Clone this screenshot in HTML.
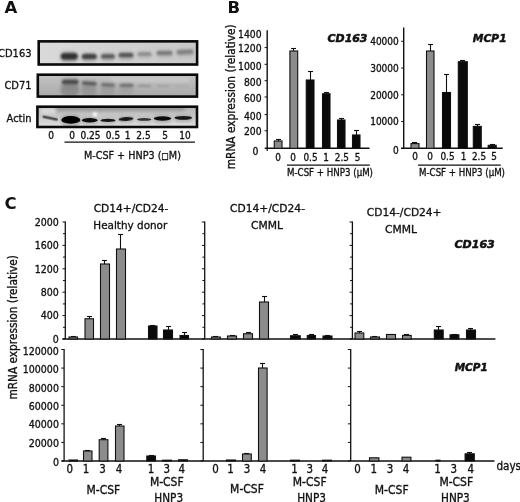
<!DOCTYPE html>
<html><head><meta charset="utf-8"><title>Figure</title>
<style>
html,body{margin:0;padding:0;background:#fff;}
body{width:520px;height:502px;overflow:hidden;}
svg{display:block;}
text{font-family:"DejaVu Sans Condensed","Liberation Sans",sans-serif;fill:#111;stroke:#111;stroke-width:0.3px;}
.bd{font-family:"DejaVu Sans","Liberation Sans",sans-serif;stroke-width:0.5px;}
.lb{font-family:"Liberation Sans",sans-serif;}
</style></head><body>
<svg width="520" height="502" viewBox="0 0 520 502">
<defs>
<filter id="b0" x="-20%" y="-100%" width="140%" height="300%"><feGaussianBlur stdDeviation="0.7"/></filter>
<filter id="b1" x="-20%" y="-100%" width="140%" height="300%"><feGaussianBlur stdDeviation="1.1"/></filter>
<filter id="b2" x="-20%" y="-100%" width="140%" height="300%"><feGaussianBlur stdDeviation="1.8"/></filter>
<linearGradient id="g1" x1="0" y1="0" x2="1" y2="0"><stop offset="0" stop-color="#dadada"/><stop offset="1" stop-color="#c8c8c8"/></linearGradient>
<linearGradient id="g2" x1="0" y1="0" x2="0" y2="1"><stop offset="0" stop-color="#c4c4c4"/><stop offset="1" stop-color="#a8a8a8"/></linearGradient>
<linearGradient id="g3" x1="0" y1="0" x2="0" y2="1"><stop offset="0" stop-color="#b2b2b2"/><stop offset="0.5" stop-color="#cacaca"/><stop offset="1" stop-color="#e2e2e2"/></linearGradient>
<clipPath id="c1"><rect x="38" y="41" width="160" height="24.3"/></clipPath>
<clipPath id="c2"><rect x="37.5" y="74.5" width="160.5" height="22.8"/></clipPath>
<clipPath id="c3"><rect x="37" y="106.5" width="160.5" height="21"/></clipPath>
</defs>
<rect width="520" height="502" fill="#fff"/>

<text x="4.6" y="12.6" font-size="16.5" text-anchor="start" font-weight="bold" class="bd" style="stroke-width:0">A</text>
<text x="227.4" y="12.6" font-size="16.5" text-anchor="start" font-weight="bold" class="bd" style="stroke-width:0">B</text>
<text x="4.6" y="208.8" font-size="16.5" text-anchor="start" font-weight="bold" class="bd" style="stroke-width:0">C</text>
<rect x="38" y="41" width="160" height="24.3" fill="url(#g1)"/>
<g clip-path="url(#c1)">
<rect x="60.0" y="51.5" width="18.5" height="10.7" rx="5.3" fill="#808080" opacity="0.6" filter="url(#b2)"/>
<rect x="61.0" y="53.2" width="16.5" height="6.2" rx="3.1" fill="#303030" opacity="1" filter="url(#b1)"/>
<rect x="81.0" y="52.5" width="16.5" height="9.5" rx="4.8" fill="#888" opacity="0.55" filter="url(#b2)"/>
<rect x="82.0" y="54.1" width="14.5" height="5.0" rx="2.5" fill="#424242" opacity="1" filter="url(#b1)"/>
<rect x="100.2" y="52.5" width="15.5" height="8.9" rx="4.5" fill="#909090" opacity="0.5" filter="url(#b2)"/>
<rect x="101.2" y="54.2" width="13.5" height="4.4" rx="2.2" fill="#5c5c5c" opacity="1" filter="url(#b1)"/>
<rect x="117.8" y="51.5" width="16.5" height="8.7" rx="4.3" fill="#909090" opacity="0.5" filter="url(#b2)"/>
<rect x="118.8" y="53.1" width="14.5" height="4.2" rx="2.1" fill="#565656" opacity="1" filter="url(#b1)"/>
<rect x="136.8" y="51.0" width="15.5" height="7.7" rx="3.9" fill="#a0a0a0" opacity="0.45" filter="url(#b2)"/>
<rect x="137.8" y="52.6" width="13.5" height="3.2" rx="1.6" fill="#8a8a8a" opacity="1" filter="url(#b1)"/>
<rect x="155.8" y="49.5" width="17.5" height="8.3" rx="4.2" fill="#9a9a9a" opacity="0.5" filter="url(#b2)"/>
<rect x="156.8" y="51.1" width="15.5" height="3.8" rx="1.9" fill="#7a7a7a" opacity="1" filter="url(#b1)"/>
<rect x="175.8" y="48.5" width="18.5" height="8.3" rx="4.2" fill="#9a9a9a" opacity="0.5" filter="url(#b2)"/>
<rect x="176.8" y="50.1" width="16.5" height="3.8" rx="1.9" fill="#808080" opacity="1" filter="url(#b1)" transform="rotate(-3 185 52)"/>
</g>
<rect x="38.7" y="41.35" width="158.4" height="23.15" fill="none" stroke="#0a0a0a" stroke-width="2.6"/>
<rect x="37.5" y="74.5" width="160.5" height="22.8" fill="url(#g2)"/>
<g clip-path="url(#c2)">
<rect x="60.5" y="83.5" width="19.0" height="13.0" rx="6.5" fill="#868686" opacity="0.85" filter="url(#b2)"/>
<rect x="81.0" y="85.5" width="16.0" height="11.0" rx="5.5" fill="#909090" opacity="0.75" filter="url(#b2)"/>
<rect x="100.5" y="87.5" width="15.0" height="9.0" rx="4.5" fill="#969696" opacity="0.65" filter="url(#b2)"/>
<rect x="118.5" y="88.0" width="15.0" height="8.0" rx="4.0" fill="#9a9a9a" opacity="0.5" filter="url(#b2)"/>
<rect x="110.0" y="77.5" width="80.0" height="5.0" rx="2.5" fill="#cfcfcf" opacity="0.6" filter="url(#b2)"/>
<rect x="61.0" y="78.1" width="18.5" height="8.9" rx="4.5" fill="#808080" opacity="0.5" filter="url(#b2)"/>
<rect x="62.0" y="79.8" width="16.5" height="4.4" rx="2.2" fill="#4c4c4c" opacity="1" filter="url(#b1)"/>
<rect x="81.0" y="80.1" width="16.5" height="7.9" rx="4.0" fill="#888" opacity="0.45" filter="url(#b2)"/>
<rect x="82.0" y="81.8" width="14.5" height="3.4" rx="1.7" fill="#5a5a5a" opacity="1" filter="url(#b1)" transform="rotate(4 89.3 83.5)"/>
<rect x="100.2" y="81.8" width="15.5" height="7.5" rx="3.8" fill="#8c8c8c" opacity="0.4" filter="url(#b2)"/>
<rect x="101.2" y="83.5" width="13.5" height="3.0" rx="1.5" fill="#6a6a6a" opacity="1" filter="url(#b1)" transform="rotate(3 108 85.0)"/>
<rect x="118.8" y="82.3" width="15.5" height="7.5" rx="3.8" fill="#909090" opacity="0.4" filter="url(#b2)"/>
<rect x="119.8" y="84.0" width="13.5" height="3.0" rx="1.5" fill="#707070" opacity="1" filter="url(#b1)"/>
<rect x="138.0" y="84.7" width="13.0" height="2.6" rx="1.3" fill="#949494" opacity="1" filter="url(#b1)"/>
<rect x="156.5" y="85.1" width="13.0" height="2.2" rx="1.1" fill="#a2a2a2" opacity="1" filter="url(#b1)"/>
<rect x="175.5" y="85.2" width="13.0" height="2.0" rx="1.0" fill="#a8a8a8" opacity="0.7" filter="url(#b1)"/>
</g>
<rect x="37.8" y="74.7" width="159.2" height="21.9" fill="none" stroke="#0a0a0a" stroke-width="2.6"/>
<rect x="37" y="106.5" width="160.5" height="21" fill="url(#g3)"/>
<g clip-path="url(#c3)">
<rect x="55.0" y="105.0" width="130.0" height="6.0" rx="3.0" fill="#8c8c8c" opacity="0.7" filter="url(#b2)"/>
<rect x="40.0" y="108.0" width="16.0" height="6.0" rx="3.0" fill="#e0e0e0" opacity="0.8" filter="url(#b2)"/>
<rect x="42.5" y="116.8" width="15.5" height="2.8" rx="1.4" fill="#505050" opacity="1" filter="url(#b0)" transform="rotate(12 50.2 118.2)"/>
<rect x="61.0" y="115.2" width="19.5" height="10.4" rx="5.2" fill="#707070" opacity="0.5" filter="url(#b2)"/>
<ellipse cx="70.8" cy="119.9" rx="9.5" ry="3.8" fill="#060606" opacity="1" filter="url(#b0)"/>
<rect x="81.5" y="116.8" width="16.5" height="7.8" rx="3.9" fill="#808080" opacity="0.4" filter="url(#b2)"/>
<ellipse cx="89.7" cy="120.2" rx="8.0" ry="2.2" fill="#0e0e0e" opacity="1" filter="url(#b0)"/>
<rect x="100.2" y="117.5" width="15.5" height="6.9" rx="3.5" fill="#888" opacity="0.35" filter="url(#b2)"/>
<ellipse cx="108.0" cy="120.4" rx="7.5" ry="1.7" fill="#161616" opacity="1" filter="url(#b0)"/>
<rect x="118.2" y="115.9" width="15.5" height="7.2" rx="3.6" fill="#888" opacity="0.35" filter="url(#b2)"/>
<ellipse cx="126.0" cy="119.0" rx="7.5" ry="1.9" fill="#161616" opacity="1" filter="url(#b0)" transform="rotate(-4 126 119)"/>
<rect x="136.7" y="116.8" width="15.0" height="6.3" rx="3.1" fill="#909090" opacity="0.3" filter="url(#b2)"/>
<ellipse cx="144.2" cy="119.4" rx="7.2" ry="1.4" fill="#303030" opacity="1" filter="url(#b0)"/>
<rect x="153.5" y="115.1" width="18.0" height="7.8" rx="3.9" fill="#808080" opacity="0.4" filter="url(#b2)"/>
<ellipse cx="162.5" cy="118.5" rx="8.8" ry="2.2" fill="#0e0e0e" opacity="1" filter="url(#b0)"/>
<rect x="174.3" y="114.7" width="18.0" height="7.2" rx="3.6" fill="#808080" opacity="0.4" filter="url(#b2)"/>
<ellipse cx="183.3" cy="117.8" rx="8.8" ry="1.9" fill="#161616" opacity="1" filter="url(#b0)"/>
<circle cx="95" cy="114.5" r="2.4" fill="#f6f6f6" filter="url(#b1)"/>
</g>
<rect x="37.4" y="106.7" width="159.6" height="20.3" fill="none" stroke="#0a0a0a" stroke-width="2.6"/>
<text x="31.5" y="57.2" font-size="11" text-anchor="end">CD163</text>
<text x="31.5" y="88.8" font-size="11" text-anchor="end">CD71</text>
<text x="31.5" y="121.5" font-size="11" text-anchor="end">Actin</text>
<text x="51" y="139" font-size="10" text-anchor="middle">0</text>
<text x="72" y="139" font-size="10" text-anchor="middle">0</text>
<text x="90.5" y="139" font-size="10" text-anchor="middle">0.25</text>
<text x="113" y="139" font-size="10" text-anchor="middle">0.5</text>
<text x="127.5" y="139" font-size="10" text-anchor="middle">1</text>
<text x="143.5" y="139" font-size="10" text-anchor="middle">2.5</text>
<text x="165" y="139" font-size="10" text-anchor="middle">5</text>
<text x="185" y="139" font-size="10" text-anchor="middle">10</text>
<line x1="64.5" y1="142.2" x2="195" y2="142.2" stroke="#111" stroke-width="1.2"/>
<text x="132.4" y="159" font-size="10.7" text-anchor="middle" textLength="97" lengthAdjust="spacingAndGlyphs">M-CSF + HNP3 (<tspan font-size="8.6" dy="-0.4">&#9633;</tspan><tspan dy="0.4">M</tspan>)</text>
<line x1="267.2" y1="30.3" x2="267.2" y2="148.3" stroke="#111" stroke-width="1.4"/>
<line x1="264.7" y1="148.3" x2="369.5" y2="148.3" stroke="#111" stroke-width="1.4"/>
<text x="261.6" y="37.7" font-size="10.3" text-anchor="end">1400</text>
<text x="261.6" y="52.0" font-size="10.3" text-anchor="end">1200</text>
<line x1="264.59999999999997" y1="47.6" x2="267.2" y2="47.6" stroke="#111" stroke-width="1"/>
<text x="261.6" y="69.9" font-size="10.3" text-anchor="end">1000</text>
<line x1="264.59999999999997" y1="64.3" x2="267.2" y2="64.3" stroke="#111" stroke-width="1"/>
<text x="261.6" y="85.7" font-size="10.3" text-anchor="end">800</text>
<line x1="264.59999999999997" y1="80.7" x2="267.2" y2="80.7" stroke="#111" stroke-width="1"/>
<text x="261.6" y="102.3" font-size="10.3" text-anchor="end">600</text>
<line x1="264.59999999999997" y1="97" x2="267.2" y2="97" stroke="#111" stroke-width="1"/>
<text x="261.6" y="119.7" font-size="10.3" text-anchor="end">400</text>
<line x1="264.59999999999997" y1="114.6" x2="267.2" y2="114.6" stroke="#111" stroke-width="1"/>
<text x="261.6" y="135.29999999999998" font-size="10.3" text-anchor="end">200</text>
<line x1="264.59999999999997" y1="130.8" x2="267.2" y2="130.8" stroke="#111" stroke-width="1"/>
<text x="258.4" y="154.7" font-size="10.3" text-anchor="end">0</text>
<line x1="267.2" y1="148.3" x2="267.2" y2="151" stroke="#111" stroke-width="1.2"/>
<line x1="278.5" y1="139.0" x2="278.5" y2="141" stroke="#111" stroke-width="1.1"/>
<line x1="276.0" y1="139.5" x2="281.0" y2="139.5" stroke="#111" stroke-width="1.1"/>
<rect x="274.25" y="141.00" width="7.75" height="7.30" fill="#8c8c8c" stroke="#111" stroke-width="1.1"/>
<line x1="293.5" y1="48.0" x2="293.5" y2="51" stroke="#111" stroke-width="1.1"/>
<line x1="291.0" y1="48.5" x2="296.0" y2="48.5" stroke="#111" stroke-width="1.1"/>
<rect x="289.90" y="51.00" width="7.80" height="97.30" fill="#8c8c8c" stroke="#111" stroke-width="1.1"/>
<line x1="310.5" y1="71.0" x2="310.5" y2="80" stroke="#111" stroke-width="1.1"/>
<line x1="308.0" y1="71.5" x2="313.0" y2="71.5" stroke="#111" stroke-width="1.1"/>
<rect x="306.25" y="80.00" width="7.75" height="68.30" fill="#0a0a0a" stroke="#111" stroke-width="1.1"/>
<line x1="326.5" y1="92.0" x2="326.5" y2="93.75" stroke="#111" stroke-width="1.1"/>
<line x1="324.0" y1="92.5" x2="329.0" y2="92.5" stroke="#111" stroke-width="1.1"/>
<rect x="322.50" y="93.75" width="7.50" height="54.55" fill="#0a0a0a" stroke="#111" stroke-width="1.1"/>
<line x1="341.5" y1="118.0" x2="341.5" y2="120" stroke="#111" stroke-width="1.1"/>
<line x1="339.0" y1="118.5" x2="344.0" y2="118.5" stroke="#111" stroke-width="1.1"/>
<rect x="337.50" y="120.00" width="7.50" height="28.30" fill="#0a0a0a" stroke="#111" stroke-width="1.1"/>
<line x1="356.5" y1="130.0" x2="356.5" y2="135" stroke="#111" stroke-width="1.1"/>
<line x1="354.0" y1="130.5" x2="359.0" y2="130.5" stroke="#111" stroke-width="1.1"/>
<rect x="352.50" y="135.00" width="7.50" height="13.30" fill="#0a0a0a" stroke="#111" stroke-width="1.1"/>
<text x="278" y="161.2" font-size="9.9" text-anchor="middle">0</text>
<text x="293" y="161.2" font-size="9.9" text-anchor="middle">0</text>
<text x="310.5" y="161.2" font-size="9.9" text-anchor="middle">0.5</text>
<text x="326.2" y="161.2" font-size="9.9" text-anchor="middle">1</text>
<text x="341.8" y="161.2" font-size="9.9" text-anchor="middle">2.5</text>
<text x="357.5" y="161.2" font-size="9.9" text-anchor="middle">5</text>
<line x1="287" y1="165.1" x2="369.8" y2="165.1" stroke="#111" stroke-width="1.4"/>
<text x="330" y="176.1" font-size="9.7" text-anchor="middle" textLength="86" lengthAdjust="spacingAndGlyphs">M-CSF + HNP3 (&#956;M)</text>
<text x="367.5" y="41.5" font-size="11" text-anchor="end" font-weight="bold" font-style="italic" textLength="40" lengthAdjust="spacingAndGlyphs" class="bd">CD163</text>
<text transform="translate(235,96.8) rotate(-90)" font-size="12" text-anchor="middle" textLength="145" lengthAdjust="spacingAndGlyphs">mRNA expression (relative)</text>
<line x1="403.7" y1="27.5" x2="403.7" y2="148.3" stroke="#111" stroke-width="1.4"/>
<line x1="401" y1="148.3" x2="502.7" y2="148.3" stroke="#111" stroke-width="1.4"/>
<text x="398.8" y="44.6" font-size="10" text-anchor="end">40000</text>
<text x="398.8" y="71.6" font-size="10" text-anchor="end">30000</text>
<text x="398.8" y="98.6" font-size="10" text-anchor="end">20000</text>
<text x="398.8" y="124.6" font-size="10" text-anchor="end">10000</text>
<text x="398.8" y="154.2" font-size="10" text-anchor="end">0</text>
<line x1="401.2" y1="121.55000000000001" x2="403.7" y2="121.55000000000001" stroke="#111" stroke-width="1"/>
<line x1="401.2" y1="94.80000000000001" x2="403.7" y2="94.80000000000001" stroke="#111" stroke-width="1"/>
<line x1="401.2" y1="68.05000000000001" x2="403.7" y2="68.05000000000001" stroke="#111" stroke-width="1"/>
<line x1="401.2" y1="41.30000000000001" x2="403.7" y2="41.30000000000001" stroke="#111" stroke-width="1"/>
<line x1="414.5" y1="142.0" x2="414.5" y2="143.6" stroke="#111" stroke-width="1.1"/>
<line x1="412.0" y1="142.5" x2="417.0" y2="142.5" stroke="#111" stroke-width="1.1"/>
<rect x="411.00" y="143.60" width="8.00" height="4.70" fill="#8c8c8c" stroke="#111" stroke-width="1.1"/>
<line x1="430.5" y1="44.0" x2="430.5" y2="51" stroke="#111" stroke-width="1.1"/>
<line x1="428.0" y1="44.5" x2="433.0" y2="44.5" stroke="#111" stroke-width="1.1"/>
<rect x="426.50" y="51.00" width="7.50" height="97.30" fill="#8c8c8c" stroke="#111" stroke-width="1.1"/>
<line x1="446.5" y1="74.0" x2="446.5" y2="92.5" stroke="#111" stroke-width="1.1"/>
<line x1="444.0" y1="74.5" x2="449.0" y2="74.5" stroke="#111" stroke-width="1.1"/>
<rect x="442.50" y="92.50" width="8.00" height="55.80" fill="#0a0a0a" stroke="#111" stroke-width="1.1"/>
<line x1="462.5" y1="60.0" x2="462.5" y2="61.7" stroke="#111" stroke-width="1.1"/>
<line x1="460.0" y1="60.5" x2="465.0" y2="60.5" stroke="#111" stroke-width="1.1"/>
<rect x="458.30" y="61.70" width="9.00" height="86.60" fill="#0a0a0a" stroke="#111" stroke-width="1.1"/>
<line x1="477.5" y1="124.0" x2="477.5" y2="126.4" stroke="#111" stroke-width="1.1"/>
<line x1="475.0" y1="124.5" x2="480.0" y2="124.5" stroke="#111" stroke-width="1.1"/>
<rect x="473.30" y="126.40" width="7.95" height="21.90" fill="#0a0a0a" stroke="#111" stroke-width="1.1"/>
<line x1="492.5" y1="144.0" x2="492.5" y2="145.3" stroke="#111" stroke-width="1.1"/>
<line x1="490.0" y1="144.5" x2="495.0" y2="144.5" stroke="#111" stroke-width="1.1"/>
<rect x="488.20" y="145.30" width="8.00" height="3.00" fill="#0a0a0a" stroke="#111" stroke-width="1.1"/>
<text x="415" y="160.4" font-size="9.9" text-anchor="middle">0</text>
<text x="430" y="160.4" font-size="9.9" text-anchor="middle">0</text>
<text x="447.5" y="160.4" font-size="9.9" text-anchor="middle">0.5</text>
<text x="463.5" y="160.4" font-size="9.9" text-anchor="middle">1</text>
<text x="479" y="160.4" font-size="9.9" text-anchor="middle">2.5</text>
<text x="494" y="160.4" font-size="9.9" text-anchor="middle">5</text>
<line x1="418" y1="165.1" x2="500.7" y2="165.1" stroke="#111" stroke-width="1.4"/>
<text x="462" y="176" font-size="9.7" text-anchor="middle" textLength="86" lengthAdjust="spacingAndGlyphs">M-CSF + HNP3 (&#956;M)</text>
<text x="506.6" y="41.8" font-size="11" text-anchor="end" font-weight="bold" font-style="italic" textLength="33.8" lengthAdjust="spacingAndGlyphs" class="bd">MCP1</text>
<line x1="65.3" y1="221.5" x2="65.3" y2="339" stroke="#111" stroke-width="1.3"/>
<line x1="62.5" y1="339.0" x2="65.3" y2="339.0" stroke="#111" stroke-width="1"/>
<line x1="63.0" y1="327.3" x2="65.3" y2="327.3" stroke="#111" stroke-width="1"/>
<line x1="62.5" y1="315.6" x2="65.3" y2="315.6" stroke="#111" stroke-width="1"/>
<line x1="63.0" y1="303.9" x2="65.3" y2="303.9" stroke="#111" stroke-width="1"/>
<line x1="62.5" y1="292.2" x2="65.3" y2="292.2" stroke="#111" stroke-width="1"/>
<line x1="63.0" y1="280.5" x2="65.3" y2="280.5" stroke="#111" stroke-width="1"/>
<line x1="62.5" y1="268.8" x2="65.3" y2="268.8" stroke="#111" stroke-width="1"/>
<line x1="63.0" y1="257.1" x2="65.3" y2="257.1" stroke="#111" stroke-width="1"/>
<line x1="62.5" y1="245.4" x2="65.3" y2="245.4" stroke="#111" stroke-width="1"/>
<line x1="63.0" y1="233.7" x2="65.3" y2="233.7" stroke="#111" stroke-width="1"/>
<line x1="62.5" y1="222.0" x2="65.3" y2="222.0" stroke="#111" stroke-width="1"/>
<line x1="204.7" y1="221.5" x2="204.7" y2="339" stroke="#111" stroke-width="1.3"/>
<line x1="201.89999999999998" y1="339.0" x2="204.7" y2="339.0" stroke="#111" stroke-width="1"/>
<line x1="202.39999999999998" y1="327.3" x2="204.7" y2="327.3" stroke="#111" stroke-width="1"/>
<line x1="201.89999999999998" y1="315.6" x2="204.7" y2="315.6" stroke="#111" stroke-width="1"/>
<line x1="202.39999999999998" y1="303.9" x2="204.7" y2="303.9" stroke="#111" stroke-width="1"/>
<line x1="201.89999999999998" y1="292.2" x2="204.7" y2="292.2" stroke="#111" stroke-width="1"/>
<line x1="202.39999999999998" y1="280.5" x2="204.7" y2="280.5" stroke="#111" stroke-width="1"/>
<line x1="201.89999999999998" y1="268.8" x2="204.7" y2="268.8" stroke="#111" stroke-width="1"/>
<line x1="202.39999999999998" y1="257.1" x2="204.7" y2="257.1" stroke="#111" stroke-width="1"/>
<line x1="201.89999999999998" y1="245.4" x2="204.7" y2="245.4" stroke="#111" stroke-width="1"/>
<line x1="202.39999999999998" y1="233.7" x2="204.7" y2="233.7" stroke="#111" stroke-width="1"/>
<line x1="201.89999999999998" y1="222.0" x2="204.7" y2="222.0" stroke="#111" stroke-width="1"/>
<line x1="352.4" y1="221.5" x2="352.4" y2="339" stroke="#111" stroke-width="1.3"/>
<line x1="349.59999999999997" y1="339.0" x2="352.4" y2="339.0" stroke="#111" stroke-width="1"/>
<line x1="350.09999999999997" y1="327.3" x2="352.4" y2="327.3" stroke="#111" stroke-width="1"/>
<line x1="349.59999999999997" y1="315.6" x2="352.4" y2="315.6" stroke="#111" stroke-width="1"/>
<line x1="350.09999999999997" y1="303.9" x2="352.4" y2="303.9" stroke="#111" stroke-width="1"/>
<line x1="349.59999999999997" y1="292.2" x2="352.4" y2="292.2" stroke="#111" stroke-width="1"/>
<line x1="350.09999999999997" y1="280.5" x2="352.4" y2="280.5" stroke="#111" stroke-width="1"/>
<line x1="349.59999999999997" y1="268.8" x2="352.4" y2="268.8" stroke="#111" stroke-width="1"/>
<line x1="350.09999999999997" y1="257.1" x2="352.4" y2="257.1" stroke="#111" stroke-width="1"/>
<line x1="349.59999999999997" y1="245.4" x2="352.4" y2="245.4" stroke="#111" stroke-width="1"/>
<line x1="350.09999999999997" y1="233.7" x2="352.4" y2="233.7" stroke="#111" stroke-width="1"/>
<line x1="349.59999999999997" y1="222.0" x2="352.4" y2="222.0" stroke="#111" stroke-width="1"/>
<line x1="64.1" y1="349.0" x2="64.1" y2="461" stroke="#111" stroke-width="1.3"/>
<line x1="61.3" y1="461.0" x2="64.1" y2="461.0" stroke="#111" stroke-width="1"/>
<line x1="61.3" y1="442.4166666666667" x2="64.1" y2="442.4166666666667" stroke="#111" stroke-width="1"/>
<line x1="61.3" y1="423.8333333333333" x2="64.1" y2="423.8333333333333" stroke="#111" stroke-width="1"/>
<line x1="61.3" y1="405.25" x2="64.1" y2="405.25" stroke="#111" stroke-width="1"/>
<line x1="61.3" y1="386.6666666666667" x2="64.1" y2="386.6666666666667" stroke="#111" stroke-width="1"/>
<line x1="61.3" y1="368.08333333333337" x2="64.1" y2="368.08333333333337" stroke="#111" stroke-width="1"/>
<line x1="61.3" y1="349.5" x2="64.1" y2="349.5" stroke="#111" stroke-width="1"/>
<line x1="203.2" y1="349.0" x2="203.2" y2="461" stroke="#111" stroke-width="1.3"/>
<line x1="200.39999999999998" y1="461.0" x2="203.2" y2="461.0" stroke="#111" stroke-width="1"/>
<line x1="200.39999999999998" y1="442.4166666666667" x2="203.2" y2="442.4166666666667" stroke="#111" stroke-width="1"/>
<line x1="200.39999999999998" y1="423.8333333333333" x2="203.2" y2="423.8333333333333" stroke="#111" stroke-width="1"/>
<line x1="200.39999999999998" y1="405.25" x2="203.2" y2="405.25" stroke="#111" stroke-width="1"/>
<line x1="200.39999999999998" y1="386.6666666666667" x2="203.2" y2="386.6666666666667" stroke="#111" stroke-width="1"/>
<line x1="200.39999999999998" y1="368.08333333333337" x2="203.2" y2="368.08333333333337" stroke="#111" stroke-width="1"/>
<line x1="200.39999999999998" y1="349.5" x2="203.2" y2="349.5" stroke="#111" stroke-width="1"/>
<line x1="350.7" y1="349.0" x2="350.7" y2="461" stroke="#111" stroke-width="1.3"/>
<line x1="347.9" y1="461.0" x2="350.7" y2="461.0" stroke="#111" stroke-width="1"/>
<line x1="347.9" y1="442.4166666666667" x2="350.7" y2="442.4166666666667" stroke="#111" stroke-width="1"/>
<line x1="347.9" y1="423.8333333333333" x2="350.7" y2="423.8333333333333" stroke="#111" stroke-width="1"/>
<line x1="347.9" y1="405.25" x2="350.7" y2="405.25" stroke="#111" stroke-width="1"/>
<line x1="347.9" y1="386.6666666666667" x2="350.7" y2="386.6666666666667" stroke="#111" stroke-width="1"/>
<line x1="347.9" y1="368.08333333333337" x2="350.7" y2="368.08333333333337" stroke="#111" stroke-width="1"/>
<line x1="347.9" y1="349.5" x2="350.7" y2="349.5" stroke="#111" stroke-width="1"/>
<line x1="62.5" y1="339" x2="495.4" y2="339" stroke="#111" stroke-width="1.3"/>
<line x1="61.5" y1="461" x2="494.5" y2="461" stroke="#111" stroke-width="1.3"/>
<text x="58.7" y="225.8" font-size="10.5" text-anchor="end">2000</text>
<text x="58.7" y="249.20000000000002" font-size="10.5" text-anchor="end">1600</text>
<text x="58.7" y="272.6" font-size="10.5" text-anchor="end">1200</text>
<text x="58.7" y="296.0" font-size="10.5" text-anchor="end">800</text>
<text x="58.7" y="319.40000000000003" font-size="10.5" text-anchor="end">400</text>
<text x="58.7" y="342.8" font-size="10.5" text-anchor="end">0</text>
<text x="58.9" y="354.8" font-size="10.5" text-anchor="end">120000</text>
<text x="58.9" y="373.1" font-size="10.5" text-anchor="end">100000</text>
<text x="58.9" y="391.5" font-size="10.5" text-anchor="end">80000</text>
<text x="58.9" y="409.8" font-size="10.5" text-anchor="end">60000</text>
<text x="58.9" y="428.1" font-size="10.5" text-anchor="end">40000</text>
<text x="58.9" y="446.5" font-size="10.5" text-anchor="end">20000</text>
<text x="58.9" y="466.0" font-size="10.5" text-anchor="end">0</text>
<text transform="translate(17.4,327.3) rotate(-90)" font-size="12" text-anchor="middle" textLength="144.5" lengthAdjust="spacingAndGlyphs">mRNA expression (relative)</text>
<line x1="73.5" y1="336.0" x2="73.5" y2="337" stroke="#111" stroke-width="1.1"/>
<line x1="71.0" y1="336.5" x2="76.0" y2="336.5" stroke="#111" stroke-width="1.1"/>
<rect x="69.00" y="337.00" width="8.50" height="2.00" fill="#8c8c8c" stroke="#111" stroke-width="1.1"/>
<line x1="89.5" y1="316.0" x2="89.5" y2="318.75" stroke="#111" stroke-width="1.1"/>
<line x1="87.0" y1="316.5" x2="92.0" y2="316.5" stroke="#111" stroke-width="1.1"/>
<rect x="85.00" y="318.75" width="8.50" height="20.25" fill="#8c8c8c" stroke="#111" stroke-width="1.1"/>
<line x1="104.5" y1="260.0" x2="104.5" y2="264" stroke="#111" stroke-width="1.1"/>
<line x1="102.0" y1="260.5" x2="107.0" y2="260.5" stroke="#111" stroke-width="1.1"/>
<rect x="100.50" y="264.00" width="9.00" height="75.00" fill="#8c8c8c" stroke="#111" stroke-width="1.1"/>
<line x1="120.5" y1="234.0" x2="120.5" y2="249" stroke="#111" stroke-width="1.1"/>
<line x1="118.0" y1="234.5" x2="123.0" y2="234.5" stroke="#111" stroke-width="1.1"/>
<rect x="116.50" y="249.00" width="9.00" height="90.00" fill="#8c8c8c" stroke="#111" stroke-width="1.1"/>
<line x1="152.5" y1="325.0" x2="152.5" y2="326" stroke="#111" stroke-width="1.1"/>
<line x1="150.0" y1="325.5" x2="155.0" y2="325.5" stroke="#111" stroke-width="1.1"/>
<rect x="148.50" y="326.00" width="8.50" height="13.00" fill="#0a0a0a" stroke="#111" stroke-width="1.1"/>
<line x1="168.5" y1="326.0" x2="168.5" y2="330" stroke="#111" stroke-width="1.1"/>
<line x1="166.0" y1="326.5" x2="171.0" y2="326.5" stroke="#111" stroke-width="1.1"/>
<rect x="163.50" y="330.00" width="9.00" height="9.00" fill="#0a0a0a" stroke="#111" stroke-width="1.1"/>
<line x1="184.5" y1="332.0" x2="184.5" y2="335.5" stroke="#111" stroke-width="1.1"/>
<line x1="182.0" y1="332.5" x2="187.0" y2="332.5" stroke="#111" stroke-width="1.1"/>
<rect x="180.00" y="335.50" width="8.50" height="3.50" fill="#0a0a0a" stroke="#111" stroke-width="1.1"/>
<line x1="215.5" y1="336.0" x2="215.5" y2="337" stroke="#111" stroke-width="1.1"/>
<line x1="213.0" y1="336.5" x2="218.0" y2="336.5" stroke="#111" stroke-width="1.1"/>
<rect x="211.50" y="337.00" width="8.75" height="2.00" fill="#8c8c8c" stroke="#111" stroke-width="1.1"/>
<line x1="232.5" y1="335.0" x2="232.5" y2="336" stroke="#111" stroke-width="1.1"/>
<line x1="230.0" y1="335.5" x2="235.0" y2="335.5" stroke="#111" stroke-width="1.1"/>
<rect x="227.50" y="336.00" width="9.00" height="3.00" fill="#8c8c8c" stroke="#111" stroke-width="1.1"/>
<line x1="248.5" y1="332.0" x2="248.5" y2="333.75" stroke="#111" stroke-width="1.1"/>
<line x1="246.0" y1="332.5" x2="251.0" y2="332.5" stroke="#111" stroke-width="1.1"/>
<rect x="243.50" y="333.75" width="9.00" height="5.25" fill="#8c8c8c" stroke="#111" stroke-width="1.1"/>
<line x1="264.5" y1="296.0" x2="264.5" y2="302" stroke="#111" stroke-width="1.1"/>
<line x1="262.0" y1="296.5" x2="267.0" y2="296.5" stroke="#111" stroke-width="1.1"/>
<rect x="259.50" y="302.00" width="9.00" height="37.00" fill="#8c8c8c" stroke="#111" stroke-width="1.1"/>
<line x1="295.5" y1="334.0" x2="295.5" y2="335.75" stroke="#111" stroke-width="1.1"/>
<line x1="293.0" y1="334.5" x2="298.0" y2="334.5" stroke="#111" stroke-width="1.1"/>
<rect x="290.50" y="335.75" width="9.75" height="3.25" fill="#0a0a0a" stroke="#111" stroke-width="1.1"/>
<line x1="311.5" y1="334.0" x2="311.5" y2="335.5" stroke="#111" stroke-width="1.1"/>
<line x1="309.0" y1="334.5" x2="314.0" y2="334.5" stroke="#111" stroke-width="1.1"/>
<rect x="307.25" y="335.50" width="8.25" height="3.50" fill="#0a0a0a" stroke="#111" stroke-width="1.1"/>
<line x1="327.5" y1="335.0" x2="327.5" y2="336" stroke="#111" stroke-width="1.1"/>
<line x1="325.0" y1="335.5" x2="330.0" y2="335.5" stroke="#111" stroke-width="1.1"/>
<rect x="323.00" y="336.00" width="9.00" height="3.00" fill="#0a0a0a" stroke="#111" stroke-width="1.1"/>
<line x1="359.5" y1="331.0" x2="359.5" y2="333" stroke="#111" stroke-width="1.1"/>
<line x1="357.0" y1="331.5" x2="362.0" y2="331.5" stroke="#111" stroke-width="1.1"/>
<rect x="355.00" y="333.00" width="8.80" height="6.00" fill="#8c8c8c" stroke="#111" stroke-width="1.1"/>
<line x1="374.5" y1="336.0" x2="374.5" y2="337" stroke="#111" stroke-width="1.1"/>
<line x1="372.0" y1="336.5" x2="377.0" y2="336.5" stroke="#111" stroke-width="1.1"/>
<rect x="370.50" y="337.00" width="9.00" height="2.00" fill="#8c8c8c" stroke="#111" stroke-width="1.1"/>
<line x1="390.5" y1="334.0" x2="390.5" y2="334.5" stroke="#111" stroke-width="1.1"/>
<line x1="388.0" y1="334.5" x2="393.0" y2="334.5" stroke="#111" stroke-width="1.1"/>
<rect x="386.50" y="334.50" width="9.00" height="4.50" fill="#8c8c8c" stroke="#111" stroke-width="1.1"/>
<line x1="406.5" y1="334.0" x2="406.5" y2="335.4" stroke="#111" stroke-width="1.1"/>
<line x1="404.0" y1="334.5" x2="409.0" y2="334.5" stroke="#111" stroke-width="1.1"/>
<rect x="402.50" y="335.40" width="8.70" height="3.60" fill="#8c8c8c" stroke="#111" stroke-width="1.1"/>
<line x1="438.5" y1="326.0" x2="438.5" y2="330" stroke="#111" stroke-width="1.1"/>
<line x1="436.0" y1="326.5" x2="441.0" y2="326.5" stroke="#111" stroke-width="1.1"/>
<rect x="434.30" y="330.00" width="8.90" height="9.00" fill="#0a0a0a" stroke="#111" stroke-width="1.1"/>
<line x1="454.5" y1="334.0" x2="454.5" y2="334.8" stroke="#111" stroke-width="1.1"/>
<line x1="452.0" y1="334.5" x2="457.0" y2="334.5" stroke="#111" stroke-width="1.1"/>
<rect x="450.00" y="334.80" width="8.90" height="4.20" fill="#0a0a0a" stroke="#111" stroke-width="1.1"/>
<line x1="470.5" y1="328.0" x2="470.5" y2="330" stroke="#111" stroke-width="1.1"/>
<line x1="468.0" y1="328.5" x2="473.0" y2="328.5" stroke="#111" stroke-width="1.1"/>
<rect x="466.50" y="330.00" width="9.00" height="9.00" fill="#0a0a0a" stroke="#111" stroke-width="1.1"/>
<rect x="69.00" y="460.00" width="8.50" height="1.00" fill="#8c8c8c" stroke="#111" stroke-width="1.1"/>
<line x1="87.5" y1="450.0" x2="87.5" y2="451" stroke="#111" stroke-width="1.1"/>
<line x1="85.0" y1="450.5" x2="90.0" y2="450.5" stroke="#111" stroke-width="1.1"/>
<rect x="83.50" y="451.00" width="8.50" height="10.00" fill="#8c8c8c" stroke="#111" stroke-width="1.1"/>
<line x1="103.5" y1="438.0" x2="103.5" y2="439.7" stroke="#111" stroke-width="1.1"/>
<line x1="101.0" y1="438.5" x2="106.0" y2="438.5" stroke="#111" stroke-width="1.1"/>
<rect x="99.20" y="439.70" width="8.70" height="21.30" fill="#8c8c8c" stroke="#111" stroke-width="1.1"/>
<line x1="119.5" y1="424.0" x2="119.5" y2="426" stroke="#111" stroke-width="1.1"/>
<line x1="117.0" y1="424.5" x2="122.0" y2="424.5" stroke="#111" stroke-width="1.1"/>
<rect x="115.50" y="426.00" width="8.50" height="35.00" fill="#8c8c8c" stroke="#111" stroke-width="1.1"/>
<line x1="151.5" y1="455.0" x2="151.5" y2="456" stroke="#111" stroke-width="1.1"/>
<line x1="149.0" y1="455.5" x2="154.0" y2="455.5" stroke="#111" stroke-width="1.1"/>
<rect x="146.80" y="456.00" width="8.70" height="5.00" fill="#0a0a0a" stroke="#111" stroke-width="1.1"/>
<rect x="162.50" y="460.20" width="9.00" height="0.80" fill="#0a0a0a" stroke="#111" stroke-width="1.1"/>
<rect x="178.50" y="459.80" width="9.00" height="1.20" fill="#0a0a0a" stroke="#111" stroke-width="1.1"/>
<rect x="226.50" y="460.00" width="9.00" height="1.00" fill="#8c8c8c" stroke="#111" stroke-width="1.1"/>
<line x1="246.5" y1="453.0" x2="246.5" y2="454" stroke="#111" stroke-width="1.1"/>
<line x1="244.0" y1="453.5" x2="249.0" y2="453.5" stroke="#111" stroke-width="1.1"/>
<rect x="242.50" y="454.00" width="8.80" height="7.00" fill="#8c8c8c" stroke="#111" stroke-width="1.1"/>
<line x1="262.5" y1="363.0" x2="262.5" y2="368" stroke="#111" stroke-width="1.1"/>
<line x1="260.0" y1="363.5" x2="265.0" y2="363.5" stroke="#111" stroke-width="1.1"/>
<rect x="258.50" y="368.00" width="8.60" height="93.00" fill="#8c8c8c" stroke="#111" stroke-width="1.1"/>
<rect x="290.50" y="460.20" width="9.00" height="0.80" fill="#0a0a0a" stroke="#111" stroke-width="1.1"/>
<rect x="322.50" y="460.20" width="9.00" height="0.80" fill="#0a0a0a" stroke="#111" stroke-width="1.1"/>
<rect x="369.50" y="457.80" width="9.40" height="3.20" fill="#8c8c8c" stroke="#111" stroke-width="1.1"/>
<rect x="402.00" y="457.20" width="8.90" height="3.80" fill="#8c8c8c" stroke="#111" stroke-width="1.1"/>
<rect x="436.00" y="460.20" width="4.00" height="0.80" fill="#0a0a0a" stroke="#111" stroke-width="1.1"/>
<line x1="469.5" y1="452.0" x2="469.5" y2="453.8" stroke="#111" stroke-width="1.1"/>
<line x1="467.0" y1="452.5" x2="472.0" y2="452.5" stroke="#111" stroke-width="1.1"/>
<rect x="465.10" y="453.80" width="9.20" height="7.20" fill="#0a0a0a" stroke="#111" stroke-width="1.1"/>
<text x="69.7" y="473.0" font-size="11.4" text-anchor="middle">0</text>
<text x="86" y="473.0" font-size="11.4" text-anchor="middle">1</text>
<text x="102.6" y="473.0" font-size="11.4" text-anchor="middle">3</text>
<text x="119" y="473.0" font-size="11.4" text-anchor="middle">4</text>
<text x="151" y="473.0" font-size="11.4" text-anchor="middle">1</text>
<text x="166.8" y="473.0" font-size="11.4" text-anchor="middle">3</text>
<text x="181.8" y="473.0" font-size="11.4" text-anchor="middle">4</text>
<text x="215.5" y="473.0" font-size="11.4" text-anchor="middle">0</text>
<text x="230.5" y="473.0" font-size="11.4" text-anchor="middle">1</text>
<text x="247" y="473.0" font-size="11.4" text-anchor="middle">3</text>
<text x="263" y="473.0" font-size="11.4" text-anchor="middle">4</text>
<text x="294.5" y="473.0" font-size="11.4" text-anchor="middle">1</text>
<text x="309.7" y="473.0" font-size="11.4" text-anchor="middle">3</text>
<text x="325" y="473.0" font-size="11.4" text-anchor="middle">4</text>
<text x="357.6" y="473.0" font-size="11.4" text-anchor="middle">0</text>
<text x="373.8" y="473.0" font-size="11.4" text-anchor="middle">1</text>
<text x="390" y="473.0" font-size="11.4" text-anchor="middle">3</text>
<text x="406" y="473.0" font-size="11.4" text-anchor="middle">4</text>
<text x="437.5" y="473.0" font-size="11.4" text-anchor="middle">1</text>
<text x="453.8" y="473.0" font-size="11.4" text-anchor="middle">3</text>
<text x="470.8" y="473.0" font-size="11.4" text-anchor="middle">4</text>
<text x="496.4" y="470.4" font-size="11.6" text-anchor="start">days</text>
<text x="103.4" y="494.2" font-size="11.5" text-anchor="middle" textLength="33.8" lengthAdjust="spacingAndGlyphs">M-CSF</text>
<text x="166.8" y="486.3" font-size="11.5" text-anchor="middle" textLength="33.8" lengthAdjust="spacingAndGlyphs">M-CSF</text>
<text x="168.7" y="501.8" font-size="11.7" text-anchor="middle">HNP3</text>
<text x="247" y="493.4" font-size="11.5" text-anchor="middle" textLength="33.8" lengthAdjust="spacingAndGlyphs">M-CSF</text>
<text x="309.7" y="486.3" font-size="11.5" text-anchor="middle" textLength="33.8" lengthAdjust="spacingAndGlyphs">M-CSF</text>
<text x="311.6" y="501.8" font-size="11.7" text-anchor="middle">HNP3</text>
<text x="391.7" y="493.7" font-size="11.5" text-anchor="middle" textLength="33.8" lengthAdjust="spacingAndGlyphs">M-CSF</text>
<text x="456.3" y="485.8" font-size="11.5" text-anchor="middle" textLength="33.8" lengthAdjust="spacingAndGlyphs">M-CSF</text>
<text x="455.4" y="502.0" font-size="11.7" text-anchor="middle">HNP3</text>
<text x="131" y="211.8" font-size="11.2" text-anchor="middle" textLength="74.6" lengthAdjust="spacingAndGlyphs">CD14+/CD24-</text>
<text x="130.3" y="229" font-size="11.2" text-anchor="middle" textLength="74" lengthAdjust="spacingAndGlyphs">Healthy donor</text>
<text x="267.5" y="211.8" font-size="11.2" text-anchor="middle" textLength="75" lengthAdjust="spacingAndGlyphs">CD14+/CD24-</text>
<text x="267" y="229" font-size="11.2" text-anchor="middle" textLength="32" lengthAdjust="spacingAndGlyphs">CMML</text>
<text x="404.2" y="215.6" font-size="11" text-anchor="middle" textLength="74.7" lengthAdjust="spacingAndGlyphs">CD14-/CD24+</text>
<text x="401" y="232.5" font-size="11" text-anchor="middle" textLength="32" lengthAdjust="spacingAndGlyphs">CMML</text>
<text x="494.8" y="247.8" font-size="11" text-anchor="end" font-weight="bold" font-style="italic" textLength="40.3" lengthAdjust="spacingAndGlyphs" class="bd">CD163</text>
<text x="487.7" y="371.3" font-size="11" text-anchor="end" font-weight="bold" font-style="italic" textLength="33" lengthAdjust="spacingAndGlyphs" class="bd">MCP1</text>
</svg>
</body></html>
